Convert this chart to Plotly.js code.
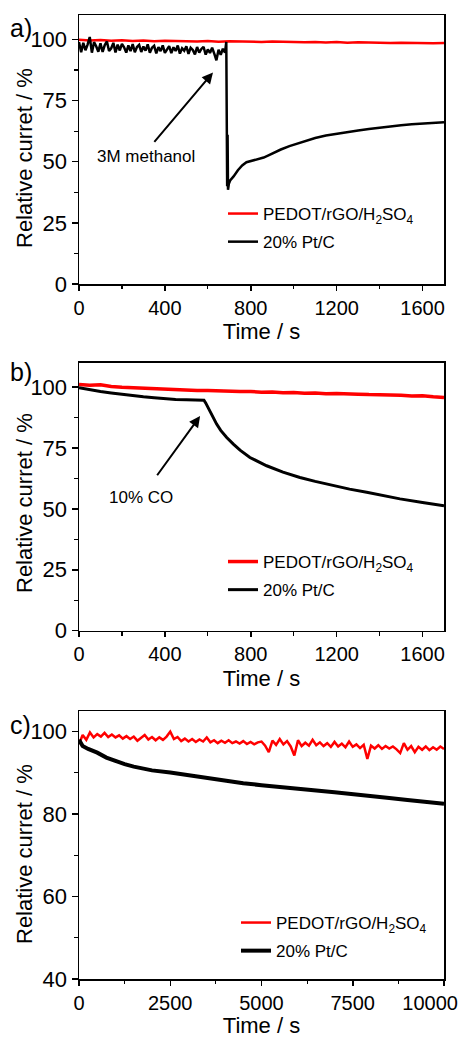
<!DOCTYPE html>
<html>
<head>
<meta charset="utf-8">
<script src="https://cdn.plot.ly/plotly-3.0.1.min.js"></script>
<style>html,body{margin:0;padding:0;background:#fff;}#chart{width:459px;height:1038px;}</style>
</head>
<body>
<div id="chart"></div>
<script>
// ---------- Panel a) : 3M methanol ----------
const aRedT = [0,50,100,150,200,250,300,350,400,450,500,550,600,650,700,750,800,850,900,950,1000,1050,1100,1150,1200,1250,1300,1350,1400,1450,1500,1550,1600,1650,1700];
const aRedV = [99.9,99.6,99.8,99.5,99.7,99.4,99.6,99.3,99.5,99.3,99.4,99.2,99.4,99.1,99.3,99.1,99.2,99.0,99.2,99.0,99.1,98.9,99.0,98.8,99.0,98.7,98.9,98.7,98.8,98.5,98.7,98.5,98.6,98.4,98.5];
const aBlkT = [0,10,20,30,40,50,60,70,80,90,100,110,120,130,140,150,160,170,180,190,200,210,220,230,240,250,260,270,280,290,300,310,320,330,340,350,360,370,380,390,400,410,420,430,440,450,460,470,480,490,500,510,520,530,540,550,560,570,580,590,600,610,620,630,640,650,660,670,680,
  686,690,692,694,698,705,720,740,760,780,800,820,840,860,880,900,940,980,1020,1060,1100,1150,1200,1250,1300,1350,1400,1450,1500,1550,1600,1650,1700];
const aBlkV = [99,94.8,98.6,95.6,97.9,101,94.6,98.9,97.2,95,98.4,94.9,97.7,99.2,95.3,96.4,98.6,94.7,97.9,95.5,98.2,96.8,94.6,97.6,95.2,98.1,94.8,96.9,97.8,94.9,97.1,95.4,98,94.6,96.6,97.4,94.3,96.9,95.2,97.6,94.5,96.2,97.3,94.4,96.8,95.3,97.5,94.2,96.4,95.4,97.2,94.1,96.6,95.7,93.9,96.9,94.6,96.1,97,93.8,95.9,94.5,96.6,94.2,91.5,95.8,93.7,96.2,94.6,
  99,40,61,38.5,41,42.5,44,46.5,48.5,49.8,50.2,50.6,51.1,51.7,52.5,53.4,55,56.4,57.6,58.7,59.7,60.7,61.5,62.2,62.8,63.4,64.0,64.5,64.9,65.3,65.6,65.9,66.1];

// ---------- Panel b) : 10% CO ----------
const bRedT = aRedT;
const bRedV = [101.1,100.7,100.9,100.2,99.9,99.7,99.4,99.2,99.2,98.9,98.9,98.6,98.6,98.4,98.4,98.2,98.2,97.9,98,97.7,97.8,97.5,97.6,97.3,97.4,97.1,97.1,96.9,96.9,96.6,96.6,96.3,96.4,96,95.7];
const bBlkT = [0,50,100,150,200,250,300,350,400,450,500,550,582,590,600,610,625,641,660,688,719,750,796,840,874,950,1029,1100,1184,1260,1340,1420,1495,1600,1700];
const bBlkV = [99.7,98.8,98.2,97.6,97.0,96.4,96.0,95.6,95.2,94.9,94.8,94.7,94.6,93.5,91.8,89.5,87,84.8,82.2,79.3,76.6,74.1,71.1,69.1,67.7,65.1,62.9,61.3,59.5,58.1,56.8,55.4,54.1,52.6,51.3];

// ---------- Panel c) : long-term stability ----------
const cRedT = [0,100,200,300,400,500,600,700,800,900,1000,1100,1200,1300,1400,1500,1600,1700,1800,1900,2000,2100,2200,2300,2400,2500,2600,2700,2800,2900,3000,3100,3200,3300,3400,3500,3600,3700,3800,3900,4000,4100,4200,4300,4400,4500,4600,4700,4800,4900,5000,5100,5200,5300,5400,5500,5600,5700,5800,5900,6000,6100,6200,6300,6400,6500,6600,6700,6800,6900,7000,7100,7200,7300,7400,7500,7600,7700,7800,7900,8000,8100,8200,8300,8400,8500,8600,8700,8800,8900,9000,9100,9200,9300,9400,9500,9600,9700,9800,9900,10000];
const cRedV = [97.0,99.2,98.0,99.8,98.6,99.4,98.8,99.7,98.7,99.3,98.6,99.1,98.3,98.9,98.2,98.8,97.8,98.6,99.2,98.1,98.7,97.9,98.6,98.0,98.8,100.0,98.2,98.7,97.7,98.3,97.6,98.2,97.5,98.1,97.6,98.6,97.4,97.9,97.2,97.8,97.3,97.9,97.2,97.6,97.1,97.7,97.0,97.5,96.9,97.4,97.6,96.6,95.0,97.8,96.8,98.2,96.9,97.7,96.4,94.2,97.9,96.5,97.3,96.6,98.0,96.7,97.4,96.5,97.2,96.3,97.5,96.4,97.1,96.2,97.6,96.3,96.9,96.0,96.8,93.4,96.6,95.9,96.7,95.8,96.5,95.9,96.4,95.7,94.8,97.2,95.6,96.5,95.0,96.3,95.6,96.4,95.5,96.2,95.6,96.4,95.8];
const cBlkT = [0,50,100,250,500,750,1000,1250,1500,1750,2000,2500,3000,3500,4000,4500,5000,5500,6000,6500,7000,7500,8000,8500,9000,9500,10000];
const cBlkV = [98,97.2,96.5,95.8,94.9,93.7,92.8,92.1,91.5,91.0,90.6,90.1,89.4,88.7,88.1,87.5,87.0,86.5,86.1,85.7,85.3,84.9,84.4,83.9,83.4,82.9,82.5];
const cTickVals = [0,2500,5000,7500,10000];
const cTickText = ['0','2500','5000','7500','10000<span style="color:rgba(0,0,0,0)">.....</span>'];

const seriesNames = ['PEDOT/rGO/H<sub>2</sub>SO<sub>4</sub>', '20% Pt/C'];
const panelLabels = ['a)', 'b)', 'c)'];
const xTitle = 'Time / s';
const yTitle = 'Relative curret / %';

const FONT = 'Liberation Sans, Arial, sans-serif';
const RED = '#ff0000', BLK = '#000000';

function tr(x, y, name, color, w, xa, ya, lg, grp) {
  return {x: x, y: y, name: name, type: 'scatter', mode: 'lines',
    line: {color: color, width: w}, xaxis: xa, yaxis: ya, legend: lg, legendgroup: grp, showlegend: true};
}

const data = [
  tr(aRedT, aRedV, seriesNames[0], RED, 2.5, 'x', 'y', 'legend', 'a1'),
  tr(aBlkT, aBlkV, seriesNames[1], BLK, 2.5, 'x', 'y', 'legend', 'a2'),
  tr(bRedT, bRedV, seriesNames[0], RED, 3.5, 'x2', 'y2', 'legend2', 'b1'),
  tr(bBlkT, bBlkV, seriesNames[1], BLK, 3, 'x2', 'y2', 'legend2', 'b2'),
  tr(cRedT, cRedV, seriesNames[0], RED, 2.5, 'x3', 'y3', 'legend3', 'c1'),
  tr(cBlkT, cBlkV, seriesNames[1], BLK, 4, 'x3', 'y3', 'legend3', 'c2')
];

const W = 459, H = 1038;
const xdom = [79 / W, 444 / W];
function yd(top, bot) { return [1 - bot / H, 1 - top / H]; }

function xax(range, dtick, mdtick, anchor, dom) {
  return {domain: dom, range: range, anchor: anchor, dtick: dtick, tick0: 0,
    showline: true, linecolor: '#000', linewidth: 1.5, mirror: true,
    ticks: 'outside', ticklen: 5, tickwidth: 1.5, tickcolor: '#000',
    minor: {dtick: mdtick, ticks: 'outside', ticklen: 3.5, tickwidth: 1.2, tickcolor: '#000', showgrid: false},
    showgrid: false, zeroline: false, exponentformat: 'none', separatethousands: false,
    tickfont: {family: FONT, size: 20, color: '#000'},
    title: {text: xTitle, font: {family: FONT, size: 22, color: '#000'}, standoff: 6},
    automargin: false};
}
function yax(range, dtick, mdtick, anchor, dom, tick0) {
  return {domain: dom, range: range, anchor: anchor, dtick: dtick, tick0: tick0,
    showline: true, linecolor: '#000', linewidth: 1.5, mirror: true,
    ticks: 'outside', ticklen: 6, tickwidth: 1.5, tickcolor: '#000',
    minor: {dtick: mdtick, ticks: 'outside', ticklen: 3.5, tickwidth: 1.2, tickcolor: '#000', showgrid: false},
    showgrid: false, zeroline: false,
    tickfont: {family: FONT, size: 22, color: '#000'},
    automargin: false};
}

function leg(xpx, ypx) {
  return {x: xpx / W, y: 1 - ypx / H, xanchor: 'left', yanchor: 'top', xref: 'paper', yref: 'paper',
    bgcolor: 'rgba(0,0,0,0)', borderwidth: 0, font: {family: FONT, size: 17, color: '#000'},
    tracegroupgap: 3, traceorder: 'grouped', itemwidth: 30};
}

const annFont = {family: FONT, size: 17, color: '#000'};
const labFont = {family: FONT, size: 25, color: '#000'};
const yTitleFont = {family: FONT, size: 22, color: '#000'};
const xaxis3 = xax([0, 10000], 2500, 1250, 'y3', xdom);
xaxis3.tickmode = 'array';
xaxis3.tickvals = cTickVals;
xaxis3.ticktext = cTickText;
xaxis3.ticklabeloverflow = 'allow';

function yTitleAnn(ycenter) {
  return {xref: 'paper', yref: 'paper', x: 24 / W, y: 1 - ycenter / H, xanchor: 'center', yanchor: 'middle',
    text: yTitle, textangle: -90, showarrow: false, font: yTitleFont};
}
function panelLab(i, ycenter) {
  return {xref: 'paper', yref: 'paper', x: 8 / W, y: 1 - ycenter / H, xanchor: 'left', yanchor: 'middle',
    text: panelLabels[i], showarrow: false, font: labFont};
}

const layout = {
  width: W, height: H,
  margin: {l: 0, r: 0, t: 0, b: 0},
  paper_bgcolor: '#fff', plot_bgcolor: '#fff',
  showlegend: true,
  xaxis: xax([0, 1700], 400, 200, 'y', xdom),
  yaxis: yax([0, 110], 25, 12.5, 'x', yd(15, 284), 0),
  xaxis2: xax([0, 1700], 400, 200, 'y2', xdom),
  yaxis2: yax([0, 110], 25, 12.5, 'x2', yd(362.7, 630.7), 0),
  xaxis3: xaxis3,
  yaxis3: yax([40, 105], 20, 10, 'x3', yd(711, 979), 40),
  legend: leg(223, 196),
  legend2: leg(223, 544),
  legend3: leg(236, 905),
  annotations: [
    {xref: 'x', yref: 'y', x: 624, y: 86.5, ax: 345, ay: 57.5, axref: 'x', ayref: 'y',
     text: '', showarrow: true, arrowhead: 2, arrowsize: 1.1, arrowwidth: 2, arrowcolor: '#000'},
    {xref: 'x', yref: 'y', x: 312, y: 52, text: '3M methanol', showarrow: false, font: annFont},
    {xref: 'x2', yref: 'y2', x: 564, y: 88.1, ax: 359, ay: 63.2, axref: 'x2', ayref: 'y2',
     text: '', showarrow: true, arrowhead: 2, arrowsize: 1.1, arrowwidth: 2, arrowcolor: '#000'},
    {xref: 'x2', yref: 'y2', x: 289, y: 54.7, text: '10% CO', showarrow: false, font: annFont},
    panelLab(0, 28), panelLab(1, 372), panelLab(2, 725),
    yTitleAnn(158), yTitleAnn(503), yTitleAnn(854)
  ]
};

Plotly.newPlot('chart', data, layout, {displayModeBar: false, staticPlot: true});
</script>
</body>
</html>
